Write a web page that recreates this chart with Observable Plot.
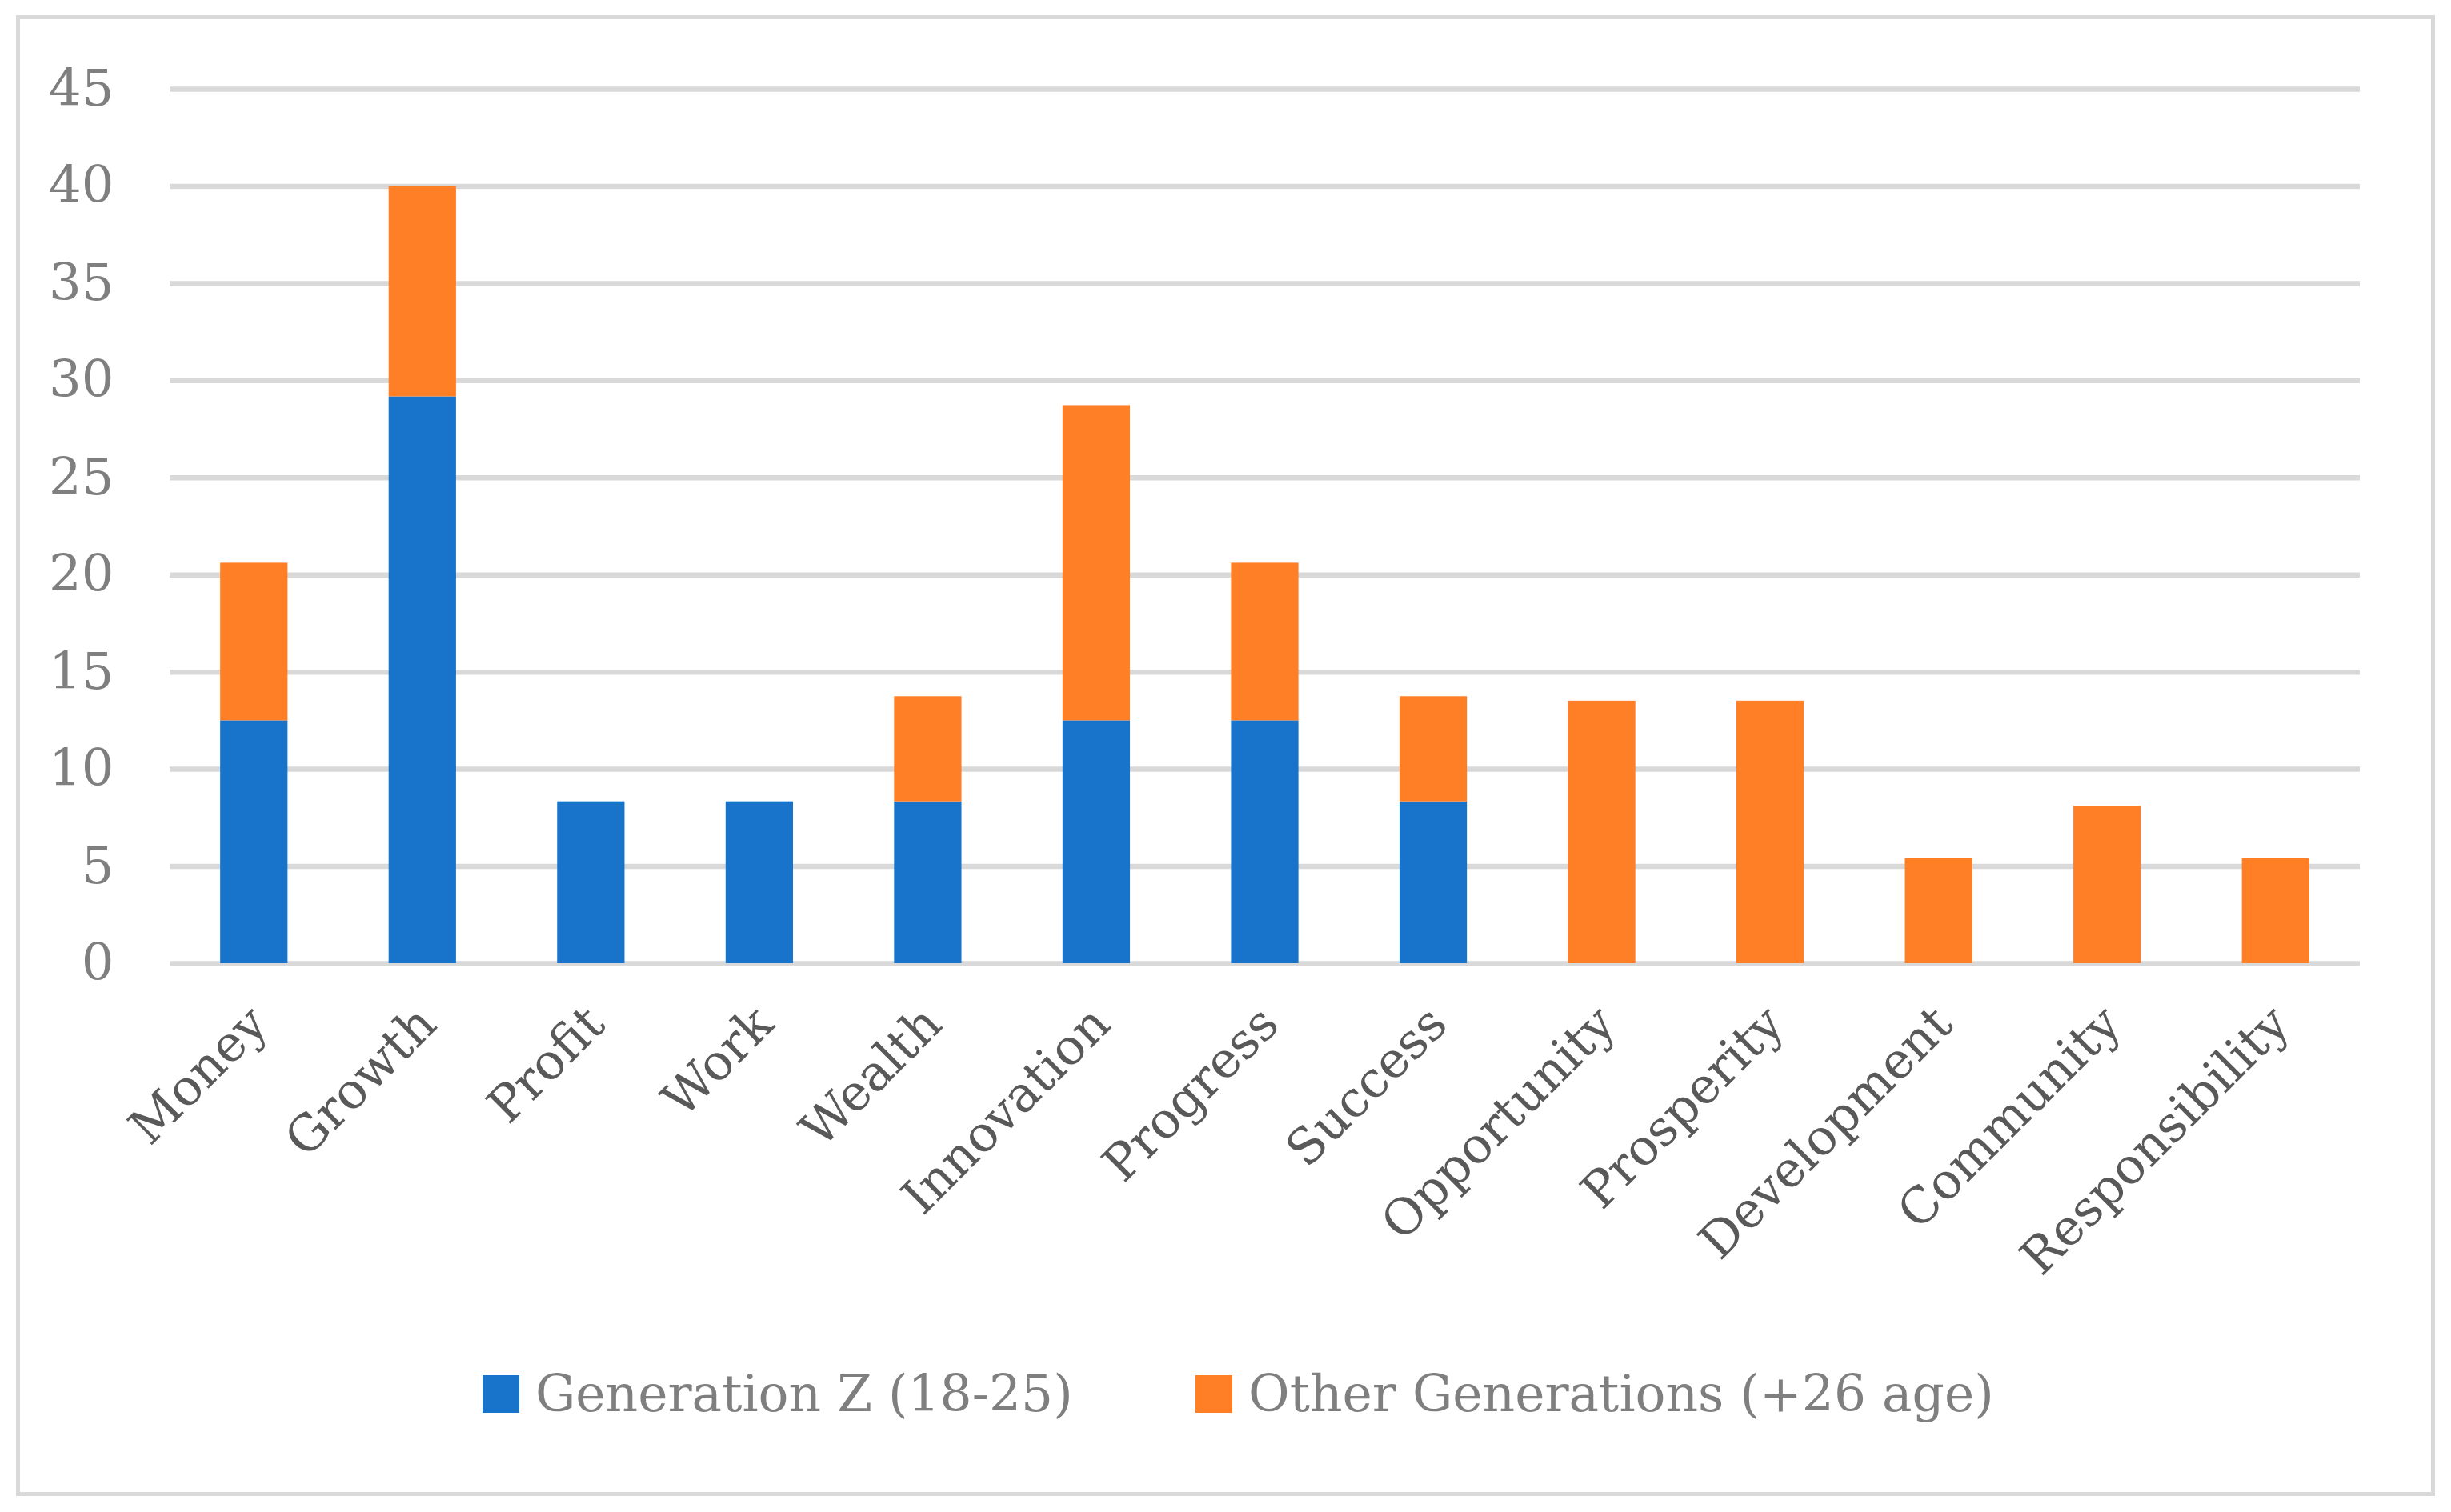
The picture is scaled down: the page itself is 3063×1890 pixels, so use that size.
<!DOCTYPE html>
<html>
<head>
<meta charset="utf-8">
<script src="https://cdn.jsdelivr.net/npm/d3@7"></script>
<script src="https://cdn.jsdelivr.net/npm/@observablehq/plot@0.6"></script>
<style>
  html, body { margin: 0; padding: 0; background: #fff; }
  #page { position: relative; width: 3063px; height: 1890px; background: #fff; overflow: hidden; }
  #frame { position: absolute; left: 20px; top: 19px; width: 3013px; height: 1841px; border: 5px solid #d9d9d9; }
  #chart { position: absolute; left: 0; top: 0; }
  .legend-item { position: absolute; top: 1700px; height: 84px; display: flex; align-items: center; font-family: "DejaVu Serif", serif; font-size: 63px; color: #7f7f7f; white-space: nowrap; }
  .swatch { width: 46px; height: 47px; margin-right: 20px; flex: none; }
</style>
</head>
<body>
<div id="page">
  <div id="frame"></div>
  <div id="chart"></div>
  <div id="legend"></div>
</div>
<script>
const categories = ["Money","Growth","Profit","Work","Wealth","Innovation","Progress","Success","Opportunity","Prosperity","Development","Community","Responsibility"];
const seriesNames = ["Generation Z (18-25)", "Other Generations (+26 age)"];
const genZ  = [12.5, 29.17, 8.33, 8.33, 8.33, 12.5, 12.5, 8.33, 0, 0, 0, 0, 0];
const other = [8.11, 10.81, 0, 0, 5.41, 16.22, 8.11, 5.41, 13.51, 13.51, 5.41, 8.11, 5.41];
const yTicks = [0, 5, 10, 15, 20, 25, 30, 35, 40, 45];
const colors = ["#1874cb", "#ff7f27"];

const rows = [];
categories.forEach((c, i) => {
  rows.push({category: c, series: seriesNames[0], value: genZ[i]});
  rows.push({category: c, series: seriesNames[1], value: other[i]});
});

const plot = Plot.plot({
  width: 3063,
  height: 1640,
  marginLeft: 212,
  marginRight: 114,
  marginTop: 111,
  marginBottom: 436,
  style: {fontFamily: "DejaVu Serif, serif", background: "transparent", overflow: "visible"},
  x: {domain: categories, paddingInner: 0.6, paddingOuter: 0.3, round: false, label: null},
  y: {domain: [0, 45], label: null},
  color: {domain: seriesNames, range: colors},
  marks: [
    Plot.ruleY(yTicks, {stroke: "#d9d9d9", strokeWidth: 6.5}),
    Plot.barY(rows.filter(d => d.value > 0), Plot.stackY({order: null}, {x: "category", y: "value", fill: "series"})),
    Plot.axisY({ticks: yTicks, tickSize: 0, tickPadding: 70, fontSize: 64, fill: "#7f7f7f", label: null}),
    Plot.axisX({tickRotate: -45, tickSize: 0, tickPadding: 65, dx: 6, fontSize: 62, fill: "#595959", label: null})
  ]
});
document.getElementById("chart").appendChild(plot);

const legend = document.getElementById("legend");
const legendLeft = [603, 1494];
seriesNames.forEach((name, i) => {
  const item = document.createElement("div");
  item.className = "legend-item";
  item.style.left = legendLeft[i] + "px";
  const sw = document.createElement("span");
  sw.className = "swatch";
  sw.style.background = colors[i];
  const label = document.createElement("span");
  label.textContent = name;
  item.appendChild(sw);
  item.appendChild(label);
  legend.appendChild(item);
});
</script>
</body>
</html>
